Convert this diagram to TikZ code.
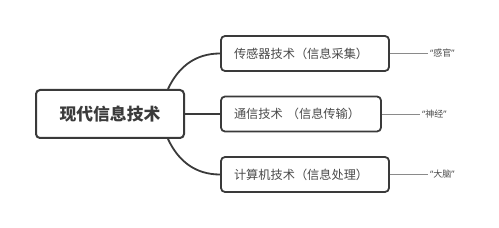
\documentclass[tikz,border=0pt]{standalone}
\usepackage{fontspec}
\setmainfont{Noto Sans CJK SC}
\newfontfamily\latinquote{Noto Sans}
\usepackage{tikz}
\usetikzlibrary{positioning}
\definecolor{boxline}{HTML}{3A3A3A}
\definecolor{boxtext}{HTML}{4A4A4A}
\definecolor{notegray}{HTML}{8A8A8A}
\tikzset{
  rootbox/.style={draw=boxline, line width=2pt, rounded corners=4pt, fill=white,
    minimum width=148pt, minimum height=48pt, text=boxtext!80!black,
    font=\fontsize{16.8}{18}\selectfont\bfseries},
  subbox/.style={draw=boxline, line width=1.8pt, rounded corners=4pt, fill=white,
    minimum height=35pt, inner xsep=13pt, align=left, text=boxtext,
    font=\fontsize{12.2}{14}\selectfont},
  branch/.style={draw=boxline, line width=1.8pt},
  noteline/.style={draw=notegray, line width=0.8pt},
  note/.style={inner sep=2pt, text=boxtext, font=\fontsize{9}{10}\selectfont}
}
\newcommand{\quoted}[1]{{\latinquote “}#1{\latinquote ”}}

\begin{document}
\begin{tikzpicture}[x=1pt, y=1pt]
  \useasboundingbox (0,0) rectangle (499,228);
  \node[rootbox] (root) at (110,114) {现代信息技术};
  \node[subbox, text width=142pt] (sensor) at (305,174.5) {传感器技术（信息采集）};
  \node[subbox, text width=134pt] (comm) at (301,114) {通信技术 （信息传输）};
  \node[subbox, text width=142pt] (compute) at (305,53.5) {计算机技术（信息处理）};
  % branches leave the root box on its top and bottom edges
  \coordinate[xshift=-17pt] (upstart) at (root.north east);
  \coordinate[xshift=-17pt] (downstart) at (root.south east);
  \draw[branch] (upstart) to[out=65, in=180] (sensor.west);
  \draw[branch] (downstart) to[out=-65, in=180] (compute.west);
  \draw[branch] (root.east) -- (comm.west);
  % notes
  \node[note, right=38pt of sensor] (sense) {\quoted{感官}};
  \node[note, right=38pt of comm] (nerve) {\quoted{神经}};
  \node[note, right=38pt of compute] (brain) {\quoted{大脑}};
  \draw[noteline] (sensor.east) -- (sense.west);
  \draw[noteline] (comm.east) -- (nerve.west);
  \draw[noteline] (compute.east) -- (brain.west);
\end{tikzpicture}
\end{document}
